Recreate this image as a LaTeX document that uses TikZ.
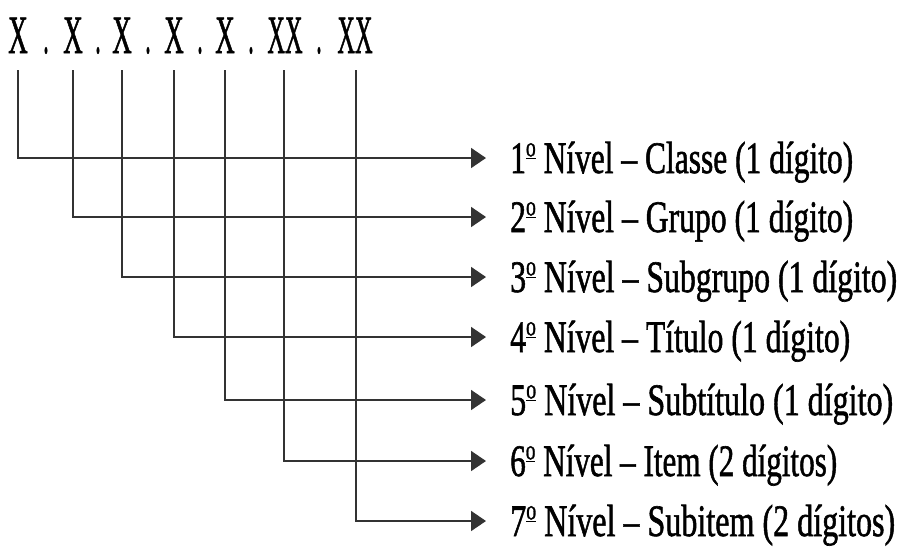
\documentclass[tikz,border=0pt]{standalone}
\usepackage{fontspec}
\usepackage{graphicx}
\setmainfont{Liberation Serif}
\newfontfamily\heavyserif{Liberation Serif}[FakeBold=1.4]
\usetikzlibrary{arrows.meta}
% horizontally condensed text of a given width
\newcommand{\narrowtext}[2]{\resizebox{#1pt}{\height}{#2}}
% ordinal sign: raised, underlined small o
\newcommand{\ordsign}{\raisebox{0.37em}{\fontsize{28}{28}\selectfont\underline{o}}}
\begin{document}
\begin{tikzpicture}[x=1pt,y=-1pt,
  code/.style={inner sep=0pt, anchor=base, font=\fontsize{54}{60}\heavyserif},
  level/.style={inner sep=0pt, anchor=base west, font=\fontsize{45}{54}\heavyserif},
  wire/.style={line width=1.7pt, draw=black!80},
  pointer/.style={wire, -{Triangle[length=15pt,width=20pt]}}]
\useasboundingbox (0,0) rectangle (904,547);

% code pattern X.X.X.X.X.XX.XX
\node[code] (c1) at (18,53)  {\scalebox{0.5}[1]{X}};
\node[code] (c2) at (73,53)  {\scalebox{0.5}[1]{X}};
\node[code] (c3) at (122,53) {\scalebox{0.5}[1]{X}};
\node[code] (c4) at (174,53) {\scalebox{0.5}[1]{X}};
\node[code] (c5) at (225,53) {\scalebox{0.5}[1]{X}};
\node[code] (c6) at (285,53) {\scalebox{0.45}[1]{XX}};
\node[code] (c7) at (355,53) {\scalebox{0.45}[1]{XX}};
\node[code] (p1) at (46,53)  {\scalebox{0.4}[1]{.}};
\node[code] (p2) at (98,53)  {\scalebox{0.4}[1]{.}};
\node[code] (p3) at (148,53) {\scalebox{0.4}[1]{.}};
\node[code] (p4) at (200,53) {\scalebox{0.4}[1]{.}};
\node[code] (p5) at (251,53) {\scalebox{0.4}[1]{.}};
\node[code] (p6) at (319,53) {\scalebox{0.4}[1]{.}};

% start points of the leaders, below each digit group
\coordinate (t1) at (18,70);
\coordinate (t2) at (73,70);
\coordinate (t3) at (122,70);
\coordinate (t4) at (174,70);
\coordinate (t5) at (225,70);
\coordinate (t6) at (284,70);
\coordinate (t7) at (356,70);

% arrow tips
\coordinate (a1) at (486,158);
\coordinate (a2) at (486,217);
\coordinate (a3) at (486,277);
\coordinate (a4) at (486,337);
\coordinate (a5) at (486,400);
\coordinate (a6) at (486,461);
\coordinate (a7) at (486,521);

% level descriptions
\node[level] (l1) at (510,173) {\narrowtext{343}{1\ordsign{} Nível – Classe (1 dígito)}};
\node[level] (l2) at (510,232) {\narrowtext{343}{2\ordsign{} Nível – Grupo (1 dígito)}};
\node[level] (l3) at (510,292) {\narrowtext{387}{3\ordsign{} Nível – Subgrupo (1 dígito)}};
\node[level] (l4) at (510,352) {\narrowtext{340}{4\ordsign{} Nível – Título (1 dígito)}};
\node[level] (l5) at (510,415) {\narrowtext{383}{5\ordsign{} Nível – Subtítulo (1 dígito)}};
\node[level] (l6) at (510,476) {\narrowtext{327}{6\ordsign{} Nível – Item (2 dígitos)}};
\node[level] (l7) at (510,536) {\narrowtext{385}{7\ordsign{} Nível – Subitem (2 dígitos)}};

% leaders
\draw[pointer] (t1) |- (a1);
\draw[pointer] (t2) |- (a2);
\draw[pointer] (t3) |- (a3);
\draw[pointer] (t4) |- (a4);
\draw[pointer] (t5) |- (a5);
\draw[pointer] (t6) |- (a6);
\draw[pointer] (t7) |- (a7);
\end{tikzpicture}
\end{document}
